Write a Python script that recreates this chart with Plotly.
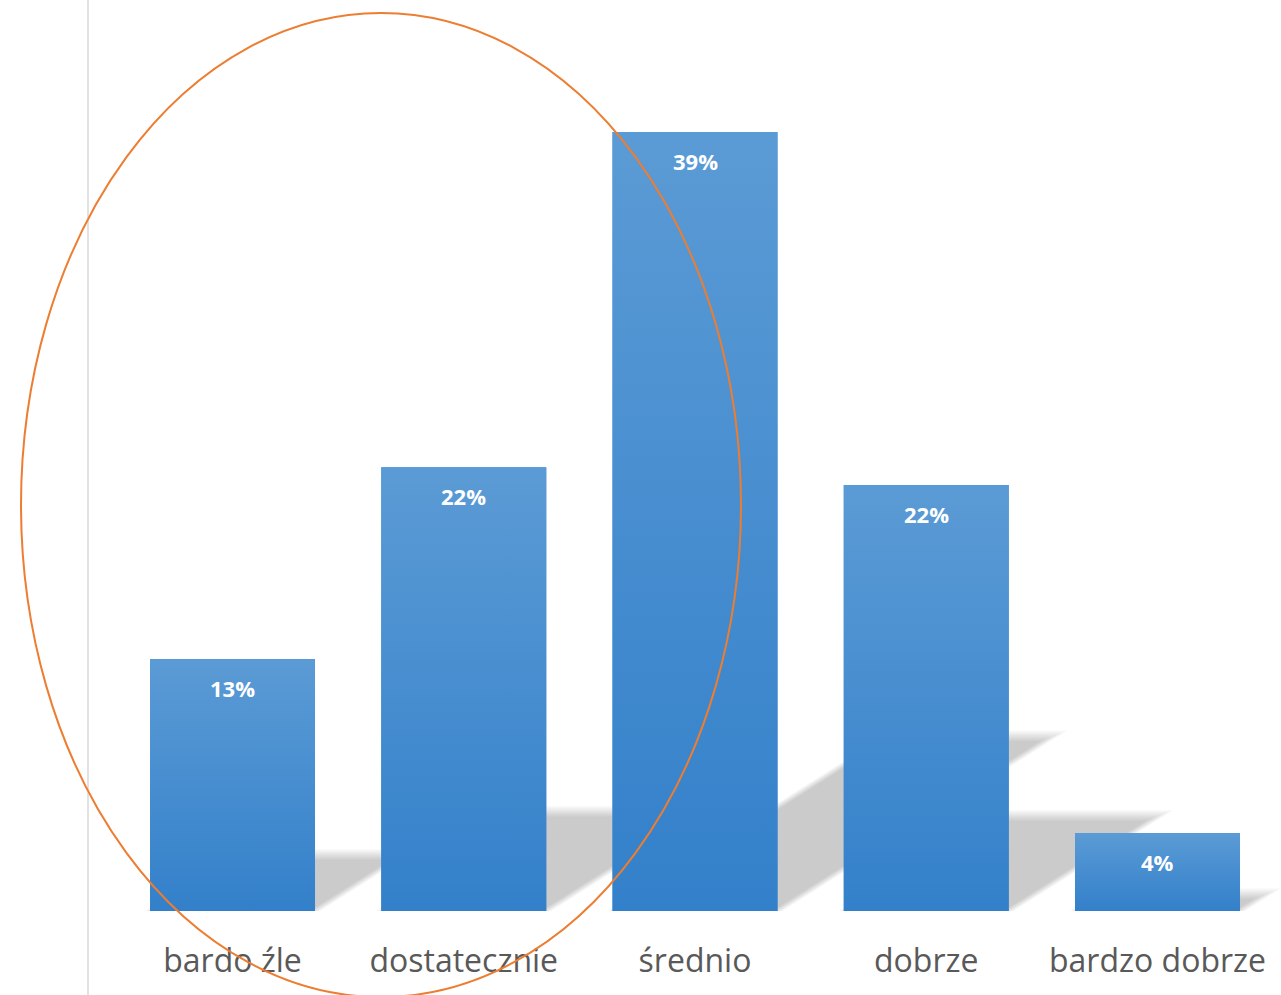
import plotly.graph_objects as go

# ---- data ----
categories = ["bardo źle", "dostatecznie", "średnio", "dobrze", "bardzo dobrze"]
values = [0.1275, 0.2245, 0.394, 0.2155, 0.0395]

# ---- style constants ----
W, H = 1281, 995
ML, MB = 88, 84
X_RANGE = [-0.6249, 4.534]
Y_RANGE = [0, 0.4608]
BAR_W = 0.7135
PX_X = (W - ML) / (X_RANGE[1] - X_RANGE[0])      # px per category unit
PX_Y = (H - MB) / (Y_RANGE[1] - Y_RANGE[0])      # px per value unit
TOP_C, BOT_C = "#5B9BD5", "#3380CA"
SH_SCALE, SH_SKEW = 0.225, 0.355                 # perspective shadow params

pos = list(range(len(categories)))

fig = go.Figure()

# base bars
fig.add_trace(go.Bar(
    x=pos, y=values, width=BAR_W,
    marker=dict(color="#4790D0", line=dict(width=0)),
    hoverinfo="skip", showlegend=False,
))

# gradient overlays derived from the bar data
for p, v in zip(pos, values):
    L, R = p - BAR_W / 2, p + BAR_W / 2
    fig.add_trace(go.Scatter(
        x=[L, R, R, L, L], y=[0, 0, v, v, 0],
        mode="lines", line=dict(width=0), fill="toself",
        fillgradient=dict(type="vertical",
                          colorscale=[[0, BOT_C], [1, TOP_C]]),
        hoverinfo="skip", showlegend=False,
    ))

# perspective shadows (behind bars), soft edges via layered polygons
shapes = []
for p, v in zip(pos, values):
    Lp = (p - BAR_W / 2) * PX_X
    Rp = (p + BAR_W / 2) * PX_X
    hp = v * PX_Y
    sh = SH_SCALE * hp
    dx = SH_SKEW * hp
    for d in [5, 3, 1, -1, -3, -5]:
        top = sh + d
        ext = dx * top / sh
        pts = [(Lp - d, 0), (Rp + d, 0), (Rp + d + ext, top), (Lp - d + ext, top)]
        path = "M " + " L ".join(f"{x / PX_X:.5f},{y / PX_Y:.5f}" for x, y in pts) + " Z"
        shapes.append(dict(type="path", path=path, xref="x", yref="y",
                           fillcolor="rgba(0,0,0,0.037)", line=dict(width=0),
                           layer="below"))

# vertical axis line spanning full height
shapes.append(dict(type="line", xref="paper", yref="paper",
                   x0=0, x1=0, y0=-(MB / (H - MB)), y1=1,
                   line=dict(color="#D9D9D9", width=1.5), layer="above"))

# orange ellipse highlight
shapes.append(dict(type="circle", xref="paper", yref="paper",
                   x0=(21 - ML) / (W - ML), x1=(741 - ML) / (W - ML),
                   y0=((H - MB) - 997) / (H - MB), y1=((H - MB) - 13) / (H - MB),
                   line=dict(color="#ED7D31", width=2), layer="above"))

annotations = [
    dict(x=p, y=v, xref="x", yref="y", text=f"{v:.0%}", showarrow=False,
         yshift=-29, yanchor="middle",
         font=dict(family="Open Sans", size=22, color="white", weight="bold"))
    for p, v in zip(pos, values)
]

fig.update_layout(
    width=W, height=H,
    margin=dict(l=ML, r=0, t=0, b=MB, pad=0),
    paper_bgcolor="white", plot_bgcolor="white",
    shapes=shapes, annotations=annotations,
    showlegend=False,
    xaxis=dict(range=X_RANGE, tickvals=pos, ticktext=categories,
               showgrid=False, zeroline=False, showline=False, ticks="",
               ticklabelstandoff=28,
               tickfont=dict(family="Open Sans", size=32, color="#595959")),
    yaxis=dict(range=Y_RANGE, showgrid=False, zeroline=False, showline=False,
               showticklabels=False, ticks=""),
)

fig.write_html("out.html",
               config={"displayModeBar": False},
               post_script="document.body.style.margin='0';document.body.style.overflow='hidden';")
